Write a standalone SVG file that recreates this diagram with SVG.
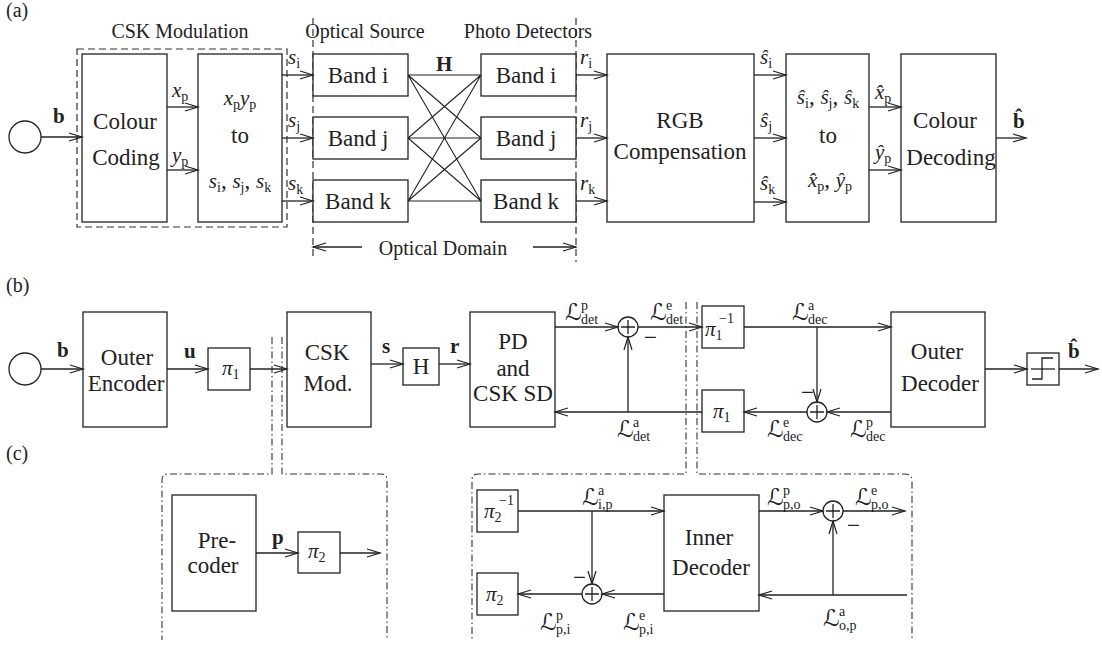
<svg xmlns="http://www.w3.org/2000/svg" width="1102" height="647" viewBox="0 0 1102 647">
<style>
.ln{stroke:#222;stroke-width:1.3;fill:none}
.bx{fill:#fff;stroke:#222;stroke-width:1.3}
.dash{stroke:#333;stroke-width:1.2;fill:none;stroke-dasharray:7 4}
.dd{stroke:#333;stroke-width:1.1;fill:none;stroke-dasharray:7 3 1.5 3}
text{font-family:"Liberation Serif","DejaVu Serif",serif;fill:#222}
.t{font-family:"Liberation Serif","DejaVu Serif",serif;font-size:23px}
.lb{font-family:"Liberation Serif","DejaVu Serif",serif;font-size:20px}
.m{font-family:"Liberation Serif","DejaVu Serif",serif;font-size:21px;font-style:italic}
.s{font-family:"Liberation Serif","DejaVu Serif",serif;font-size:14px;font-style:normal}
.bf{font-family:"Liberation Serif","DejaVu Serif",serif;font-size:21px;font-weight:bold}
.L{font-family:"DejaVu Serif","DejaVu Sans",serif;font-size:23px;font-style:normal}
</style>
<defs>
<marker id="ar" markerUnits="userSpaceOnUse" markerWidth="16" markerHeight="12" refX="13" refY="5" orient="auto" overflow="visible">
<path d="M0,1 L13,5 L0,9" fill="none" stroke="#222" stroke-width="1.2"/>
</marker>
</defs>

<!-- Part labels -->
<text class="lb" x="6" y="17">(a)</text>
<text class="lb" x="6" y="292">(b)</text>
<text class="lb" x="6" y="460">(c)</text>

<!-- ===== (a) ===== -->
<g id="csk-modulation-frame">
<rect x="77" y="49" width="210" height="178" class="dash"/>
<text class="lb" x="180" y="38" text-anchor="middle">CSK Modulation</text>
</g>
<g id="optical-domain-lines">
<line x1="313" y1="18" x2="313" y2="258" class="dash"/>
<line x1="576" y1="18" x2="576" y2="262" class="dash"/>
<text class="lb" x="365" y="38" text-anchor="middle">Optical Source</text>
<text class="lb" x="528" y="38" text-anchor="middle">Photo Detectors</text>
<text class="lb" x="443" y="255" text-anchor="middle">Optical Domain</text>
</g>
<g id="src-a"><circle cx="25" cy="137" r="16" class="ln"/></g>
<g id="colour-coding">
<rect x="82" y="54" width="85" height="168" class="bx"/>
<text class="t" x="125" y="129" text-anchor="middle">Colour</text>
<text class="t" x="126" y="165" text-anchor="middle">Coding</text>
</g>
<g id="xy-to-s">
<rect x="198" y="54" width="84" height="168" class="bx"/>
<text class="m" x="240" y="105" text-anchor="middle">x<tspan class="s" dy="4">p</tspan><tspan dy="-4">y</tspan><tspan class="s" dy="4">p</tspan></text>
<text class="t" x="240" y="143" text-anchor="middle">to</text>
<text class="m" x="240" y="188" text-anchor="middle">s<tspan class="s" dy="4">i</tspan><tspan class="t" dy="-4" style="font-style:normal">, </tspan>s<tspan class="s" dy="4">j</tspan><tspan class="t" dy="-4" style="font-style:normal">, </tspan>s<tspan class="s" dy="4">k</tspan></text>
</g>
<g id="src-band-i"><rect x="313" y="54" width="95" height="42" class="bx"/><text class="t" x="358" y="83" text-anchor="middle">Band i</text></g>
<g id="src-band-j"><rect x="313" y="117" width="95" height="42" class="bx"/><text class="t" x="358" y="146" text-anchor="middle">Band j</text></g>
<g id="src-band-k"><rect x="313" y="180" width="95" height="42" class="bx"/><text class="t" x="358" y="209" text-anchor="middle">Band k</text></g>
<g id="pd-band-i"><rect x="481" y="54" width="95" height="42" class="bx"/><text class="t" x="526" y="83" text-anchor="middle">Band i</text></g>
<g id="pd-band-j"><rect x="481" y="117" width="95" height="42" class="bx"/><text class="t" x="526" y="146" text-anchor="middle">Band j</text></g>
<g id="pd-band-k"><rect x="481" y="180" width="95" height="42" class="bx"/><text class="t" x="526" y="209" text-anchor="middle">Band k</text></g>
<g id="rgb-comp">
<rect x="607" y="54" width="147" height="168" class="bx"/>
<text class="t" x="680" y="128" text-anchor="middle">RGB</text>
<text class="t" x="680" y="159" text-anchor="middle">Compensation</text>
</g>
<g id="s-to-xy">
<rect x="786" y="54" width="83" height="168" class="bx"/>
<text class="m" x="828" y="104" text-anchor="middle">ŝ<tspan class="s" dy="4">i</tspan><tspan class="t" dy="-4" style="font-style:normal">, </tspan>ŝ<tspan class="s" dy="4">j</tspan><tspan class="t" dy="-4" style="font-style:normal">, </tspan>ŝ<tspan class="s" dy="4">k</tspan></text>
<text class="t" x="828" y="143" text-anchor="middle">to</text>
<text class="m" x="830" y="187" text-anchor="middle">x̂<tspan class="s" dy="4">p</tspan><tspan class="t" dy="-4" style="font-style:normal">, </tspan>ŷ<tspan class="s" dy="4">p</tspan></text>
</g>
<g id="colour-decoding">
<rect x="901" y="54" width="95" height="168" class="bx"/>
<text class="t" x="945" y="128" text-anchor="middle">Colour</text>
<text class="t" x="951" y="165" text-anchor="middle">Decoding</text>
</g>

<!-- ===== (b) ===== -->
<g id="src-b"><circle cx="25" cy="369" r="16" class="ln"/></g>
<g id="outer-encoder">
<rect x="83" y="312" width="84" height="115" class="bx"/>
<text class="t" x="127" y="365" text-anchor="middle">Outer</text>
<text class="t" x="126" y="391" text-anchor="middle">Encoder</text>
</g>
<g id="pi1-b"><rect x="208" y="348" width="42" height="42" class="bx"/><text class="m" x="222" y="375">π<tspan class="s" dy="4">1</tspan></text></g>
<g id="csk-mod">
<rect x="287" y="312" width="84" height="115" class="bx"/>
<text class="t" x="327" y="360" text-anchor="middle">CSK</text>
<text class="t" x="328" y="391" text-anchor="middle">Mod.</text>
</g>
<g id="h-box"><rect x="403" y="348" width="36" height="37" class="bx"/><text class="t" x="421" y="374" text-anchor="middle">H</text></g>
<g id="pd-sd">
<rect x="470" y="312" width="85" height="115" class="bx"/>
<text class="t" x="513" y="349" text-anchor="middle">PD</text>
<text class="t" x="513" y="376" text-anchor="middle">and</text>
<text class="t" x="513" y="401" text-anchor="middle">CSK SD</text>
</g>
<g id="pi1inv-b"><rect x="702" y="306" width="42" height="42" class="bx"/><text class="m" x="705" y="336">π<tspan class="s" dy="4">1</tspan></text><text class="s" x="719" y="323">−1</text></g>
<g id="pi1-b2"><rect x="702" y="390" width="42" height="42" class="bx"/><text class="m" x="713" y="418">π<tspan class="s" dy="4">1</tspan></text></g>
<g id="outer-decoder">
<rect x="891" y="312" width="94" height="115" class="bx"/>
<text class="t" x="937" y="359" text-anchor="middle">Outer</text>
<text class="t" x="940" y="391" text-anchor="middle">Decoder</text>
</g>
<g id="hard-decision">
<rect x="1027" y="353" width="32" height="32" class="bx"/>
<line x1="1031" y1="369" x2="1055" y2="369" class="ln"/>
<polyline points="1032,379 1042,379 1042,358 1053,358" class="ln"/>
</g>
<g id="sum1"><circle cx="628" cy="327" r="10" class="bx"/><path d="M621,327 H635 M628,320 V334" class="ln"/></g>
<g id="sum2"><circle cx="817" cy="412" r="10" class="bx"/><path d="M810,412 H824 M817,405 V419" class="ln"/></g>

<!-- (b)-(c) separators -->
<g id="c-frame-left">
<path d="M272,337 V474 H168 Q162,474 162,480 V640" class="dd"/>
<path d="M282,337 V474 H381 Q387,474 387,480 V640" class="dd"/>
</g>
<g id="c-frame-right">
<path d="M686,302 V474 H478 Q472,474 472,480 V640" class="dd"/>
<path d="M697,302 V474 H905 Q912,474 912,481 V640" class="dd"/>
</g>

<!-- ===== (c) ===== -->
<g id="precoder">
<rect x="172" y="495" width="84" height="116" class="bx"/>
<text class="t" x="217" y="548" text-anchor="middle">Pre-</text>
<text class="t" x="213" y="573" text-anchor="middle">coder</text>
</g>
<g id="pi2-c"><rect x="298" y="532" width="42" height="41" class="bx"/><text class="m" x="308" y="558">π<tspan class="s" dy="4">2</tspan></text></g>
<g id="pi2inv-c"><rect x="477" y="490" width="41" height="42" class="bx"/><text class="m" x="484" y="518">π<tspan class="s" dy="4">2</tspan></text><text class="s" x="499" y="505">−1</text></g>
<g id="pi2-c2"><rect x="477" y="573" width="41" height="42" class="bx"/><text class="m" x="486" y="601">π<tspan class="s" dy="4">2</tspan></text></g>
<g id="inner-decoder">
<rect x="664" y="495" width="95" height="116" class="bx"/>
<text class="t" x="709" y="545" text-anchor="middle">Inner</text>
<text class="t" x="711" y="575" text-anchor="middle">Decoder</text>
</g>
<g id="sum3"><circle cx="592" cy="594" r="10" class="bx"/><path d="M585,594 H599 M592,587 V601" class="ln"/></g>
<g id="sum4"><circle cx="833" cy="511" r="10" class="bx"/><path d="M826,511 H840 M833,504 V518" class="ln"/></g>

<!-- ===== Connectors ===== -->
<g id="connectors" class="ln">
<!-- (a) -->
<line x1="41" y1="137" x2="82" y2="137" marker-end="url(#ar)"/>
<line x1="167" y1="107" x2="198" y2="107" marker-end="url(#ar)"/>
<line x1="167" y1="170" x2="198" y2="170" marker-end="url(#ar)"/>
<line x1="282" y1="75" x2="313" y2="75" marker-end="url(#ar)"/>
<line x1="282" y1="138" x2="313" y2="138" marker-end="url(#ar)"/>
<line x1="282" y1="201" x2="313" y2="201" marker-end="url(#ar)"/>
<path d="M408,75 L481,75 M408,75 L481,138 M408,75 L481,201 M408,138 L481,75 M408,138 L481,138 M408,138 L481,201 M408,201 L481,75 M408,201 L481,138 M408,201 L481,201" stroke-width="1.1"/>
<line x1="576" y1="75" x2="607" y2="75" marker-end="url(#ar)"/>
<line x1="576" y1="138" x2="607" y2="138" marker-end="url(#ar)"/>
<line x1="576" y1="201" x2="607" y2="201" marker-end="url(#ar)"/>
<line x1="754" y1="75" x2="786" y2="75" marker-end="url(#ar)"/>
<line x1="754" y1="138" x2="786" y2="138" marker-end="url(#ar)"/>
<line x1="754" y1="202" x2="786" y2="202" marker-end="url(#ar)"/>
<line x1="869" y1="107" x2="901" y2="107" marker-end="url(#ar)"/>
<line x1="869" y1="170" x2="901" y2="170" marker-end="url(#ar)"/>
<line x1="996" y1="138" x2="1026" y2="138" marker-end="url(#ar)"/>
<line x1="362" y1="247" x2="313" y2="247" marker-end="url(#ar)"/>
<line x1="533" y1="247" x2="576" y2="247" marker-end="url(#ar)"/>
<!-- (b) -->
<line x1="41" y1="369" x2="83" y2="369" marker-end="url(#ar)"/>
<line x1="167" y1="369" x2="208" y2="369" marker-end="url(#ar)"/>
<line x1="250" y1="369" x2="287" y2="369" marker-end="url(#ar)"/>
<line x1="371" y1="364" x2="403" y2="364" marker-end="url(#ar)"/>
<line x1="439" y1="364" x2="470" y2="364" marker-end="url(#ar)"/>
<line x1="555" y1="327" x2="618" y2="327" marker-end="url(#ar)"/>
<line x1="638" y1="327" x2="702" y2="327" marker-end="url(#ar)"/>
<line x1="744" y1="327" x2="891" y2="327" marker-end="url(#ar)"/>
<line x1="817" y1="327" x2="817" y2="402" marker-end="url(#ar)"/>
<line x1="891" y1="412" x2="827" y2="412" marker-end="url(#ar)"/>
<line x1="807" y1="412" x2="744" y2="412" marker-end="url(#ar)"/>
<line x1="702" y1="412" x2="555" y2="412" marker-end="url(#ar)"/>
<line x1="628" y1="412" x2="628" y2="337" marker-end="url(#ar)"/>
<line x1="985" y1="369" x2="1027" y2="369" marker-end="url(#ar)"/>
<line x1="1059" y1="369" x2="1098" y2="369" marker-end="url(#ar)"/>
<!-- (c) -->
<line x1="256" y1="553" x2="298" y2="553" marker-end="url(#ar)"/>
<line x1="340" y1="553" x2="380" y2="553" marker-end="url(#ar)"/>
<line x1="518" y1="511" x2="664" y2="511" marker-end="url(#ar)"/>
<line x1="592" y1="511" x2="592" y2="584" marker-end="url(#ar)"/>
<line x1="664" y1="594" x2="602" y2="594" marker-end="url(#ar)"/>
<line x1="582" y1="594" x2="518" y2="594" marker-end="url(#ar)"/>
<line x1="759" y1="511" x2="823" y2="511" marker-end="url(#ar)"/>
<line x1="843" y1="511" x2="905" y2="511" marker-end="url(#ar)"/>
<line x1="907" y1="595" x2="759" y2="595" marker-end="url(#ar)"/>
<line x1="833" y1="595" x2="833" y2="521" marker-end="url(#ar)"/>
</g>

<!-- ===== Connector labels ===== -->
<g id="labels">
<text class="bf" x="53" y="123">b</text>
<text class="m" x="172" y="97">x<tspan class="s" dy="4">p</tspan></text>
<text class="m" x="172" y="162">y<tspan class="s" dy="4">p</tspan></text>
<text class="m" x="288" y="64">s<tspan class="s" dy="4">i</tspan></text>
<text class="m" x="288" y="127">s<tspan class="s" dy="4">j</tspan></text>
<text class="m" x="288" y="190">s<tspan class="s" dy="4">k</tspan></text>
<text class="bf" x="436" y="71">H</text>
<text class="m" x="580" y="64">r<tspan class="s" dy="4">i</tspan></text>
<text class="m" x="580" y="127">r<tspan class="s" dy="4">j</tspan></text>
<text class="m" x="580" y="190">r<tspan class="s" dy="4">k</tspan></text>
<text class="m" x="760" y="64">ŝ<tspan class="s" dy="4">i</tspan></text>
<text class="m" x="760" y="127">ŝ<tspan class="s" dy="4">j</tspan></text>
<text class="m" x="760" y="190">ŝ<tspan class="s" dy="4">k</tspan></text>
<text class="m" x="875" y="99">x̂<tspan class="s" dy="4">p</tspan></text>
<text class="m" x="875" y="159">ŷ<tspan class="s" dy="4">p</tspan></text>
<text class="bf" x="1013" y="128">b̂</text>

<text class="bf" x="57" y="357">b</text>
<text class="bf" x="184" y="358">u</text>
<text class="bf" x="382" y="353">s</text>
<text class="bf" x="450" y="353">r</text>
<text class="bf" x="1068" y="358">b̂</text>

<text class="L" x="565" y="320">ℒ</text><text class="s" x="581" y="310">p</text><text class="s" x="581" y="324">det</text>
<text class="L" x="650" y="320">ℒ</text><text class="s" x="666" y="310">e</text><text class="s" x="666" y="324">det</text>
<text class="L" x="792" y="320">ℒ</text><text class="s" x="808" y="310">a</text><text class="s" x="808" y="324">dec</text>
<text class="L" x="617" y="437">ℒ</text><text class="s" x="633" y="427">a</text><text class="s" x="633" y="441">det</text>
<text class="L" x="767" y="437">ℒ</text><text class="s" x="783" y="427">e</text><text class="s" x="783" y="441">dec</text>
<text class="L" x="850" y="437">ℒ</text><text class="s" x="866" y="427">p</text><text class="s" x="866" y="441">dec</text>
<text class="t" x="644" y="345">−</text>
<text class="t" x="801" y="400">−</text>

<text class="bf" x="272" y="544">p</text>
<text class="L" x="582" y="505">ℒ</text><text class="s" x="598" y="495">a</text><text class="s" x="598" y="509">i,p</text>
<text class="L" x="540" y="630">ℒ</text><text class="s" x="556" y="620">p</text><text class="s" x="556" y="634">p,i</text>
<text class="L" x="623" y="630">ℒ</text><text class="s" x="639" y="620">e</text><text class="s" x="639" y="634">p,i</text>
<text class="L" x="767" y="505">ℒ</text><text class="s" x="783" y="495">p</text><text class="s" x="783" y="509">p,o</text>
<text class="L" x="855" y="505">ℒ</text><text class="s" x="871" y="495">e</text><text class="s" x="871" y="509">p,o</text>
<text class="L" x="823" y="626">ℒ</text><text class="s" x="839" y="616">a</text><text class="s" x="839" y="630">o,p</text>
<text class="t" x="573" y="585">−</text>
<text class="t" x="847" y="533">−</text>
</g>
</svg>
